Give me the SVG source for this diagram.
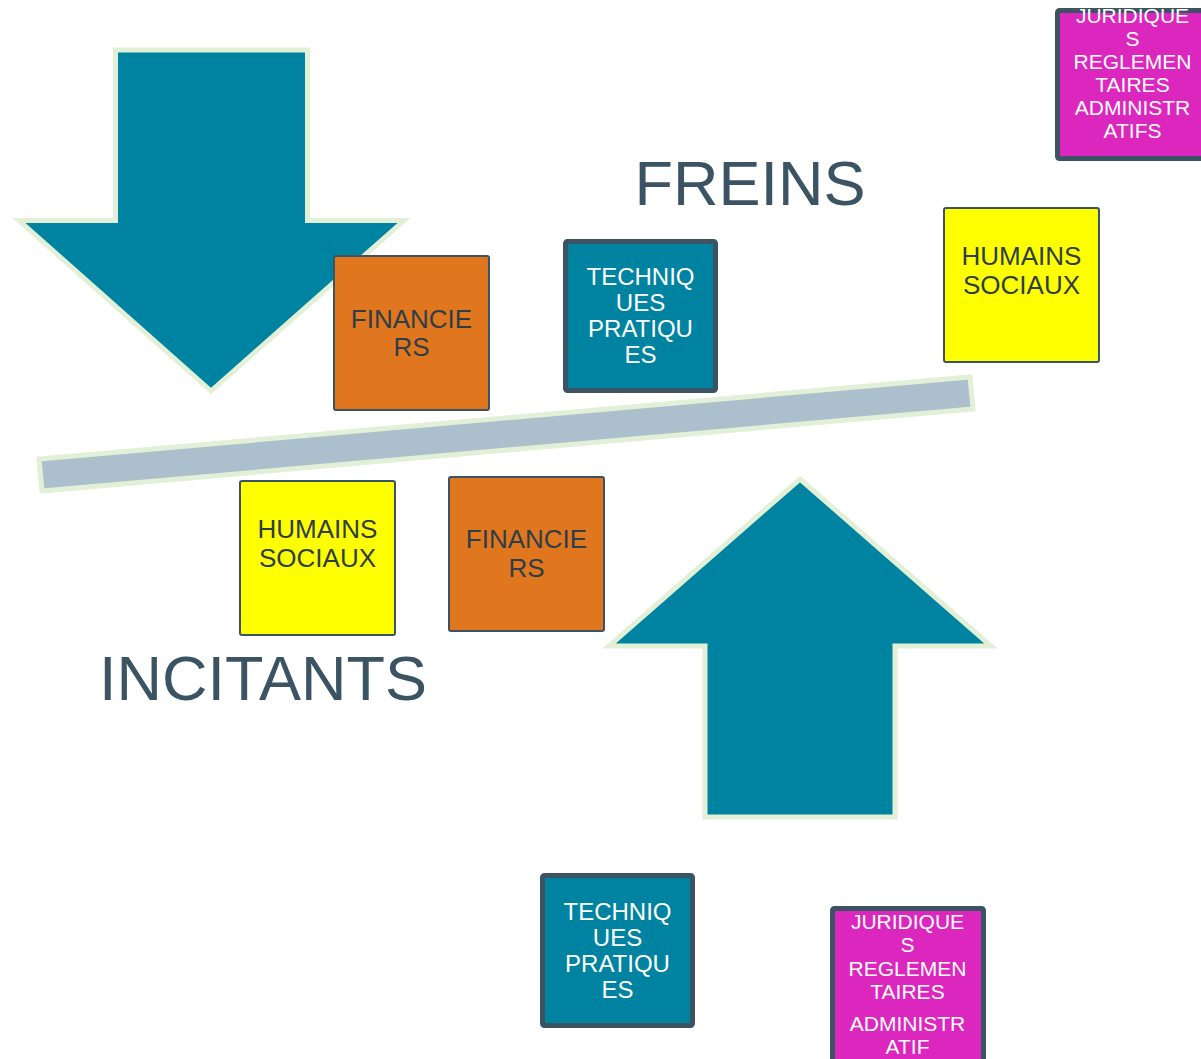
<svg xmlns="http://www.w3.org/2000/svg" width="1201" height="1059" viewBox="0 0 1201 1059">
<style>
.arrow{fill:#0083a1;stroke:#e3f0d8;stroke-width:5}
.beam{fill:#abc0cc;stroke:#e3f0d8;stroke-width:5}
.box{stroke:#3b5363;stroke-width:2}
.thick{stroke-width:5}
.teal{fill:#0083a1}
.orange{fill:#e0771e}
.yellow{fill:#ffff00}
.mag{fill:#dc27bf}
text{font-family:"Liberation Sans",Arial,sans-serif;text-anchor:middle}
.dark{fill:#2e3d47}
.white{fill:#ffffff}
.title{fill:#3b5363;font-size:63px}
</style>
<g id="arrow-down"><path class="arrow" d="M115.5,50 H307.5 V220.5 H404 L211,391 L19,220.5 H115.5 Z"/></g>
<g id="arrow-up"><path class="arrow" d="M800,479 L991,646 H895 V817 H705 V646 H609 Z"/></g>
<g id="beam"><path class="beam" d="M39,459 L970,377 L973,409 L42,491 Z"/></g>
<g id="freins"><text class="title" x="750" y="205">FREINS</text></g>
<g id="incitants"><text class="title" x="263" y="700">INCITANTS</text></g>
<g id="financiers-top"><rect class="box orange" x="334" y="256" width="155" height="154" rx="2"/>
<text class="dark" font-size="26" x="411.5"><tspan x="411.5" y="328">FINANCIE</tspan><tspan x="411.5" y="356">RS</tspan></text></g>
<g id="techniques-top"><rect class="box thick teal" x="565.5" y="241.5" width="150" height="149" rx="2"/>
<text class="white" font-size="24"><tspan x="640.5" y="285">TECHNIQ</tspan><tspan x="640.5" y="311">UES</tspan><tspan x="640.5" y="337">PRATIQU</tspan><tspan x="640.5" y="363">ES</tspan></text></g>
<g id="humains-top"><rect class="box yellow" x="944" y="208" width="155" height="154" rx="2"/>
<text class="dark" font-size="26"><tspan x="1021.5" y="265">HUMAINS</tspan><tspan x="1021.5" y="294">SOCIAUX</tspan></text></g>
<g id="juridiques-top"><rect class="box thick mag" x="1057.5" y="10.5" width="155" height="148" rx="2"/>
<text class="white" font-size="21"><tspan x="1132.5" y="23">JURIDIQUE</tspan><tspan x="1132.5" y="46">S</tspan><tspan x="1132.5" y="69">REGLEMEN</tspan><tspan x="1132.5" y="92">TAIRES</tspan><tspan x="1132.5" y="115">ADMINISTR</tspan><tspan x="1132.5" y="138">ATIFS</tspan></text></g>
<g id="humains-bottom"><rect class="box yellow" x="240" y="481" width="155" height="154" rx="2"/>
<text class="dark" font-size="26"><tspan x="317.5" y="538">HUMAINS</tspan><tspan x="317.5" y="567">SOCIAUX</tspan></text></g>
<g id="financiers-bottom"><rect class="box orange" x="449" y="477" width="155" height="154" rx="2"/>
<text class="dark" font-size="26"><tspan x="526.5" y="548">FINANCIE</tspan><tspan x="526.5" y="577">RS</tspan></text></g>
<g id="techniques-bottom"><rect class="box thick teal" x="542.5" y="875.5" width="150" height="150" rx="2"/>
<text class="white" font-size="24"><tspan x="617.5" y="920">TECHNIQ</tspan><tspan x="617.5" y="946">UES</tspan><tspan x="617.5" y="972">PRATIQU</tspan><tspan x="617.5" y="998">ES</tspan></text></g>
<g id="juridiques-bottom"><rect class="box thick mag" x="832.5" y="908.5" width="151" height="160" rx="2"/>
<text class="white" font-size="21"><tspan x="907.5" y="929">JURIDIQUE</tspan><tspan x="907.5" y="952">S</tspan><tspan x="907.5" y="976">REGLEMEN</tspan><tspan x="907.5" y="999">TAIRES</tspan><tspan x="907.5" y="1031">ADMINISTR</tspan><tspan x="907.5" y="1054">ATIF</tspan></text></g>
<g id="connectors"/>
</svg>
